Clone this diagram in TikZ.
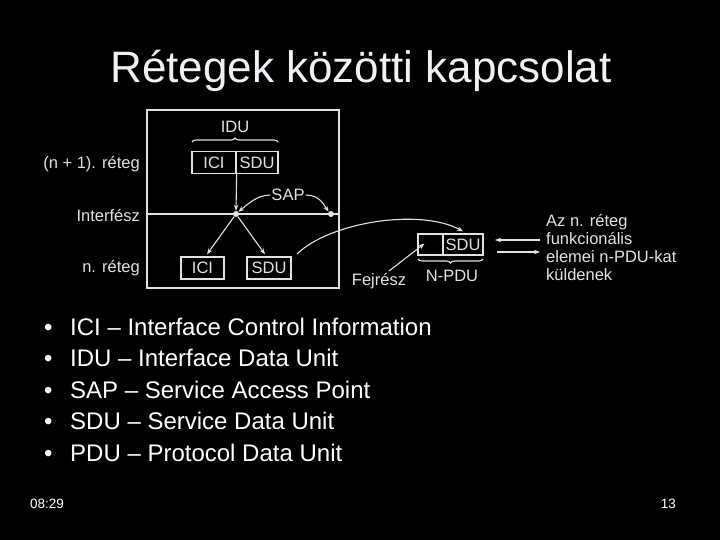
\documentclass[tikz,border=0pt]{standalone}
\usepackage{fontspec}
\setmainfont{Liberation Sans}
\usetikzlibrary{arrows.meta,decorations.pathreplacing,calc}
\definecolor{ink}{HTML}{E2E2E2}
\definecolor{titlec}{HTML}{F0F0F5}
\begin{document}
\begin{tikzpicture}[x=1pt,y=-1pt,
  dia/.style={font=\fontsize{16.5}{19}\selectfont, text=ink},
  cell/.style={draw=ink, line width=1.3pt, minimum height=22pt, inner sep=0pt, dia},
  conn/.style={draw=ink, line width=1.1pt, -{Stealth[length=6pt,width=4.5pt]}},
  sapdot/.style={circle, fill=ink, inner sep=0pt, minimum size=6pt},
  bul/.style={anchor=base west, font=\fontsize{24}{28}\selectfont, text=white, inner sep=0pt},
  foot/.style={anchor=base, font=\fontsize{13.5}{16}\selectfont, text=white, inner sep=0pt},
  brc/.style={draw=ink, line width=1.1pt, decorate, decoration={brace, amplitude=4pt}}]
\fill[black] (0,0) rectangle (720,540);
\useasboundingbox (0,0) rectangle (720,540);

% title
\node[anchor=base, font=\fontsize{44}{50}\selectfont, text=titlec, inner sep=0pt] (title) at (361,83) {Rétegek közötti kapcsolat};

% frame
\node[draw=ink, line width=1.3pt, minimum width=192pt, minimum height=178pt, inner sep=0pt] (frame) at (243,199) {};
\coordinate (ifl) at (147,214);
\coordinate (ifr) at (339,214);
\draw[ink, line width=1.1pt] (ifl) -- (ifr);

% left labels
\node[dia, anchor=east, inner sep=0pt] (lbl1) at (140,164) {(n + 1). réteg};
\node[dia, anchor=east, inner sep=0pt] (lbl2) at (140,216) {Interfész};
\node[dia, anchor=east, inner sep=0pt] (lbl3) at (140,268) {n. réteg};

% upper IDU
\node[dia, inner sep=0pt] (idu) at (235,127) {IDU};
\coordinate (ibl) at (192,142);
\coordinate (ibr) at (278,142);
\draw[brc] (ibl) -- (ibr);
\node[cell, minimum width=44pt] (uici) at (214,162.5) {ICI};
\node[cell, minimum width=42pt] (usdu) at (257,162.5) {SDU};

% SAP points
\node[sapdot] (sapc) at (236,214) {};
\node[sapdot] (sapr) at (331,214) {};
\draw[conn] (uici.south east) -- (sapc.north);
\node[dia, inner sep=1pt] (sap) at (288,195) {SAP};
\draw[conn] (sap.west) .. controls +(-14,0) and +(8,-6) .. (sapc.north east);
\draw[conn] (sap.east) .. controls +(14,0) and +(-5,-7) .. (sapr.north west);

% lower boxes
\node[cell, minimum width=43pt] (lici) at (202.5,268) {ICI};
\node[cell, minimum width=44pt] (lsdu) at (269,268) {SDU};
\draw[conn] (sapc) -- ($(lici.north)+(4.5,-2)$);
\draw[conn] (sapc) -- ($(lsdu.north)+(-4,-2)$);

% N-PDU
\node[cell, minimum width=25pt, minimum height=21pt] (hdr) at (430.5,244.5) {};
\node[cell, minimum width=40pt, minimum height=21pt] (nsdu) at (463,244.5) {SDU};
\coordinate (nbr) at (483,259);
\coordinate (nbl) at (418,259);
\draw[brc] (nbr) -- (nbl);
\node[dia, inner sep=0pt] (npdu) at (452,276) {N-PDU};
\node[dia, inner sep=0pt] (fej) at (379,281) {Fejrész};
\draw[conn] ($(fej.north)+(10,-2)$) -- ($(hdr.center)+(-6,-1)$);

% curve from lower SDU to N-PDU
\coordinate (cs) at (297,254);
\draw[conn] (cs) .. controls (330,222) and (420,208) .. ($(nsdu.north)+(0,-2)$);

% right arrows and text
\coordinate (a1s) at (540,240);
\coordinate (a1e) at (495,240);
\coordinate (a2s) at (497,252);
\coordinate (a2e) at (540,252);
\draw[conn] (a1s) -- (a1e);
\draw[conn] (a2s) -- (a2e);
\node[dia, anchor=west, align=left, inner sep=0pt, font=\fontsize{16.5}{17.7}\selectfont] (rtxt) at (546,247.5) {Az n. réteg\\funkcionális\\elemei n-PDU-kat\\küldenek};

% bullets
\foreach \yy/\tx [count=\i] in {335/{ICI – Interface Control Information},366/{IDU – Interface Data Unit},398/{SAP – Service Access Point},429/{SDU – Service Data Unit},461/{PDU – Protocol Data Unit}}{
  \node[bul] (b\i) at (44,\yy) {•};
  \node[bul] (t\i) at (70,\yy) {\tx};
}

% footer
\node[foot, anchor=base west] (time) at (30,508) {08:29};
\node[foot, anchor=base east] (page) at (676,508) {13};
\end{tikzpicture}
\end{document}
